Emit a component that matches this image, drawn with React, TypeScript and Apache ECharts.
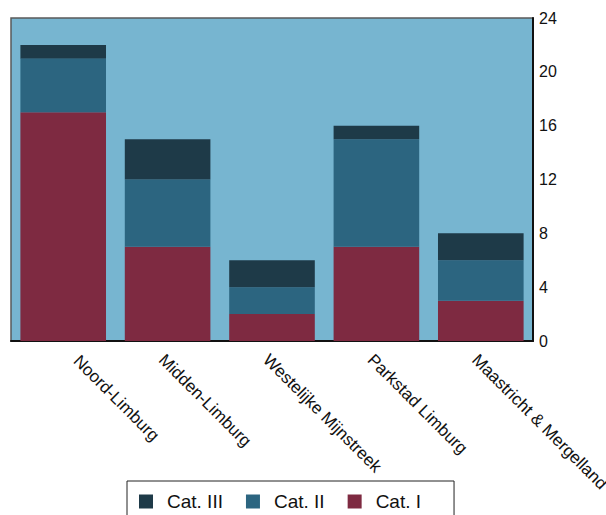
import React, { useEffect, useRef } from "react";
import * as echarts from "echarts";

// Regions along the category axis
const regions = [
  "Noord-Limburg",
  "Midden-Limburg",
  "Westelijke Mijnstreek",
  "Parkstad Limburg",
  "Maastricht & Mergelland",
];

// Counts per category, stacked bottom to top
const catI = [17, 7, 2, 7, 3];
const catII = [4, 5, 2, 8, 3];
const catIII = [1, 3, 2, 1, 2];

const seriesNames = ["Cat. I", "Cat. II", "Cat. III"];
const legendOrder = ["Cat. III", "Cat. II", "Cat. I"];
const colors = ["#7e2a41", "#2c6580", "#1e3a48"];

const labelBase = {
  rotate: -45,
  fontSize: 17,
  color: "#111",
  verticalAlign: "top",
};

export default function App() {
  const ref = useRef<HTMLDivElement>(null);

  useEffect(() => {
    document.body.style.margin = "0";
    if (!ref.current) return;
    const chart = echarts.init(ref.current, undefined, { renderer: "svg" });
    const values = [catI, catII, catIII];
    chart.setOption({
      animation: false,
      textStyle: { fontFamily: "Liberation Sans, Arial, sans-serif" },
      grid: {
        left: 11,
        right: 73,
        top: 18,
        bottom: 174,
        outerBoundsMode: "none",
        containLabel: false,
        show: true,
        backgroundColor: "#77b5d0",
        borderColor: "#5a5a5a",
        borderWidth: 1.5,
      },
      legend: {
        data: legendOrder,
        left: 127,
        top: 481,
        padding: [11, 33, 20, 12],
        borderColor: "#222",
        borderWidth: 1,
        itemWidth: 14,
        itemHeight: 14,
        itemGap: 23,
        icon: "rect",
        textStyle: {
          fontSize: 19,
          color: "#111",
          fontFamily: "Liberation Sans, Arial, sans-serif",
          padding: [0, 0, 0, 9],
        },
      },
      xAxis: [
        {
          type: "category",
          data: regions,
          position: "bottom",
          axisLine: { show: true, lineStyle: { color: "#111", width: 2 } },
          axisTick: { show: false },
          axisLabel: {
            ...labelBase,
            margin: 10,
            interval: (index: number) => index !== 0,
          },
        },
        {
          // first region's label sits a little further right
          type: "category",
          data: regions,
          position: "bottom",
          axisLine: { show: false },
          axisTick: { show: false },
          axisLabel: {
            ...labelBase,
            margin: -8,
            padding: [0, 0, 0, 27],
            interval: (index: number) => index === 0,
          },
        },
      ],
      yAxis: {
        type: "value",
        position: "right",
        min: 0,
        max: 24,
        interval: 4,
        splitLine: { show: false },
        axisLine: { show: true, lineStyle: { color: "#111", width: 2 } },
        axisTick: { show: false },
        axisLabel: { fontSize: 16, color: "#111", margin: 6 },
      },
      series: seriesNames.map((name, i) => ({
        name,
        type: "bar",
        stack: "total",
        xAxisIndex: 0,
        data: values[i],
        barCategoryGap: "18%",
        itemStyle: { color: colors[i] },
      })),
    });
    return () => chart.dispose();
  }, []);

  return <div ref={ref} style={{ width: 606, height: 515 }} />;
}
